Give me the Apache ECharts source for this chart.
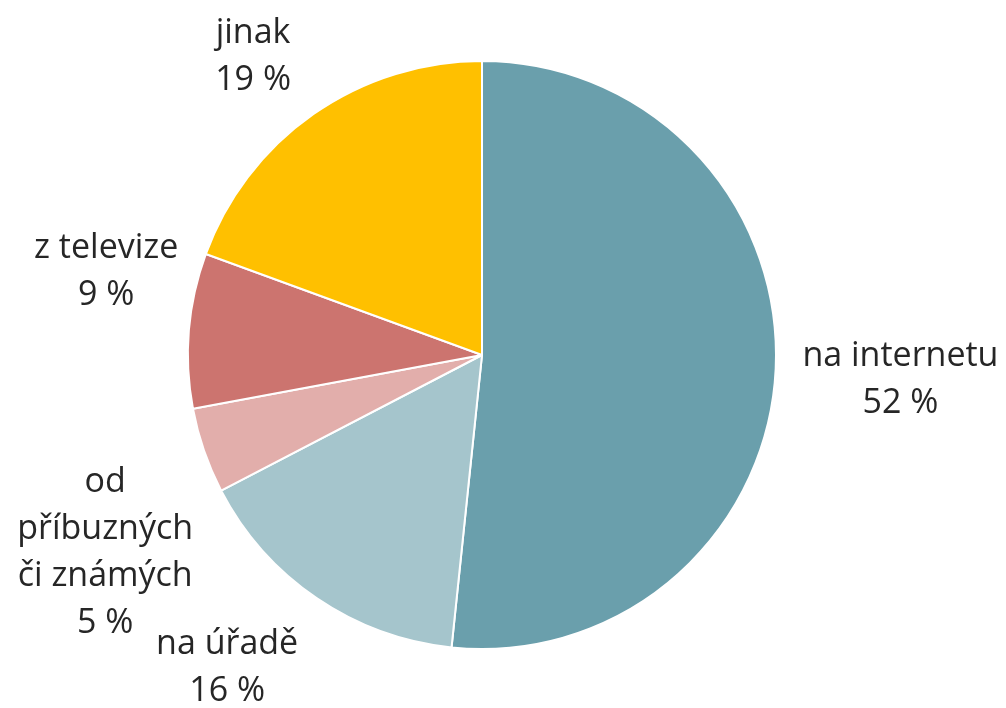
<!DOCTYPE html>
<html>
<head>
<meta charset="utf-8">
<script src="https://cdn.jsdelivr.net/npm/echarts@6/dist/echarts.min.js"></script>
<style>
  html, body { margin: 0; padding: 0; background: #ffffff; }
  #chart { width: 1006px; height: 708px; }
</style>
</head>
<body>
<div id="chart"></div>
<script>
const categories = ['na internetu', 'na úřadě', 'od\npříbuzných\nči známých', 'z televize', 'jinak']
const shares = [51.6, 15.7, 4.7, 8.5, 19.4]
const colors = ['#6a9fac', '#a5c5cc', '#e2aeab', '#cc746f', '#ffc000']

const W = 1006
const H = 708
const cx = 482
const cy = 355
const radius = 294
const gap = 24
// hand placed labels in the original, small nudges from the automatic spot
const labelNudge = [[3, 6], [-36, 11], [7, 64], [13, -53], [-25, 1]]

const total = shares.reduce((a, b) => a + b, 0)
// middle angle of each slice, clockwise from the top
const midAngles = shares.map((v, i) => {
  const before = shares.slice(0, i).reduce((a, b) => a + b, 0)
  return ((before + v / 2) / total) * Math.PI * 2
})

const chart = echarts.init(document.getElementById('chart'))

chart.setOption({
  backgroundColor: '#ffffff',
  animation: false,
  series: [
    {
      type: 'pie',
      center: [(cx / W) * 100 + '%', (cy / H) * 100 + '%'],
      radius: radius,
      startAngle: 90,
      clockwise: true,
      avoidLabelOverlap: false,
      itemStyle: {
        borderColor: '#ffffff',
        borderWidth: 2,
      },
      label: {
        show: true,
        position: 'outside',
        color: '#262626',
        fontFamily: 'Open Sans',
        fontSize: 34,
        lineHeight: 47,
        align: 'center',
        formatter: (p) => p.name + '\n' + Math.round(p.value) + ' %',
      },
      labelLine: { show: false },
      labelLayout: (params) => {
        const i = params.dataIndex
        const a = midAngles[i]
        const sx = Math.sin(a)
        const sy = -Math.cos(a)
        const r = radius + gap
        const w = params.labelRect.width
        const h = params.labelRect.height
        return {
          x: cx + sx * r + (sx * w) / 2 + labelNudge[i][0],
          y: cy + sy * r + (sy * h) / 2 + labelNudge[i][1],
          align: 'center',
          verticalAlign: 'middle',
        }
      },
      emphasis: { disabled: true },
      data: categories.map((name, i) => ({
        name: name,
        value: shares[i],
        itemStyle: { color: colors[i] },
      })),
    },
  ],
})
</script>
</body>
</html>
